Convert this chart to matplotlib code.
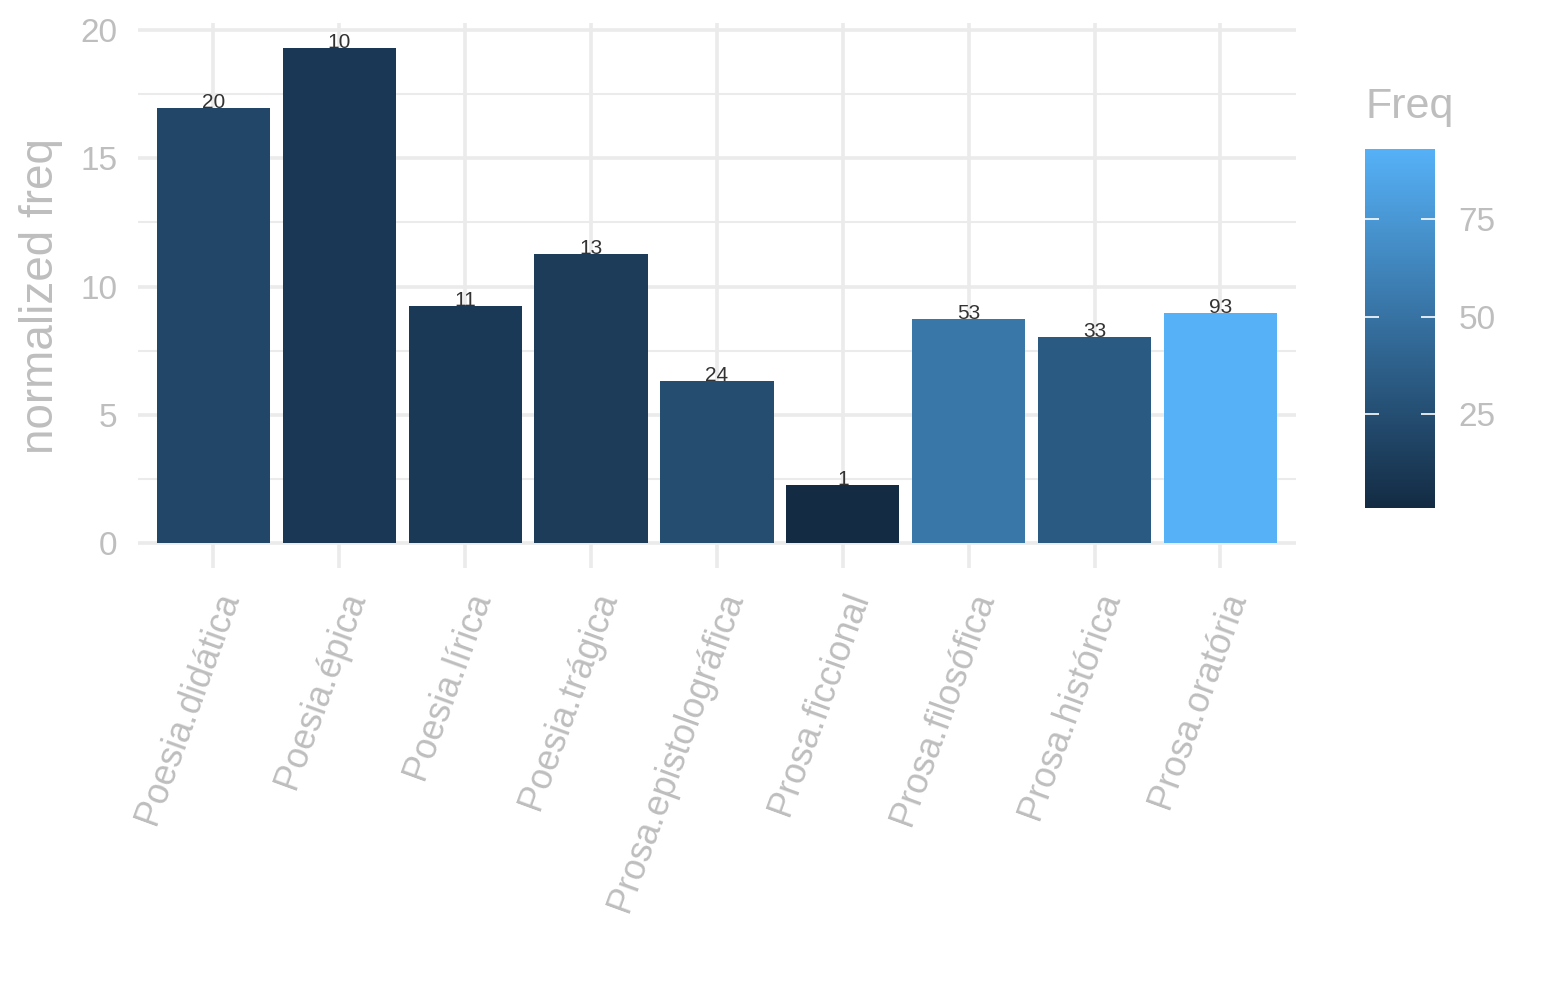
import numpy as np
import matplotlib
matplotlib.use("Agg")
import matplotlib.pyplot as plt
from matplotlib.colors import LinearSegmentedColormap, Normalize
from matplotlib.cm import ScalarMappable

plt.rcParams['font.family'] = ['Liberation Sans', 'DejaVu Sans']

genres = ['Poesia.didática', 'Poesia.épica', 'Poesia.lírica', 'Poesia.trágica',
          'Prosa.epistolográfica', 'Prosa.ficcional', 'Prosa.filosófica',
          'Prosa.histórica', 'Prosa.oratória']
norm_freq = [16.95, 19.3, 9.25, 11.27, 6.33, 2.25, 8.72, 8.02, 8.95]
freq = [20, 10, 11, 13, 24, 1, 53, 33, 93]

grey = '#BEBEBE'
grid_col = '#EBEBEB'

cmap = LinearSegmentedColormap.from_list('gg', ['#132B43', '#56B1F7'])
cnorm = Normalize(vmin=min(freq), vmax=max(freq))

fig = plt.figure(figsize=(15.45, 10), dpi=100)
ax = fig.add_axes([0.0893, 0.432, 0.7495, 0.545])

x = np.arange(1, len(genres) + 1)
ax.bar(x, norm_freq, width=0.9, color=cmap(cnorm(freq)), zorder=3)
for xi, h, f in zip(x, norm_freq, freq):
    ax.text(xi, h, str(f), ha='center', va='baseline', fontsize=15,
            color='#333333', zorder=4)

ax.set_xlim(0.4, len(genres) + 0.6)
ymax = max(norm_freq)
ax.set_ylim(-0.05 * ymax, 1.05 * ymax)

ax.set_yticks([0, 5, 10, 15, 20])
ax.set_yticks([2.5, 7.5, 12.5, 17.5], minor=True)
ax.set_xticks(x)
ax.set_xticklabels(genres, rotation=70, ha='right', va='top',
                   rotation_mode='anchor')

ax.grid(True, which='major', color=grid_col, lw=2.6, zorder=0)
ax.grid(True, which='minor', axis='y', color=grid_col, lw=1.5, zorder=0)
for s in ax.spines.values():
    s.set_visible(False)
ax.tick_params(axis='both', which='both', length=0, labelcolor=grey)
ax.tick_params(axis='y', labelsize=24, pad=15)
ax.tick_params(axis='x', labelsize=26, pad=14)
ax.set_ylabel('normalized freq', fontsize=33, color=grey, labelpad=12)

# gradient legend
cax = fig.add_axes([0.8835, 0.492, 0.0453, 0.359])
cb = fig.colorbar(ScalarMappable(norm=cnorm, cmap=cmap), cax=cax)
cb.outline.set_visible(False)
cb.set_ticks([25, 50, 75])
cax.tick_params(left=True, right=True, direction='in', length=10, width=1.2,
                color='white', labelleft=False, labelright=True,
                labelsize=24, labelcolor=grey, pad=17)
fig.text(0.8835, 0.893, 'Freq', fontsize=31, color=grey, ha='left', va='center')

fig.savefig('out.png', dpi=100)
